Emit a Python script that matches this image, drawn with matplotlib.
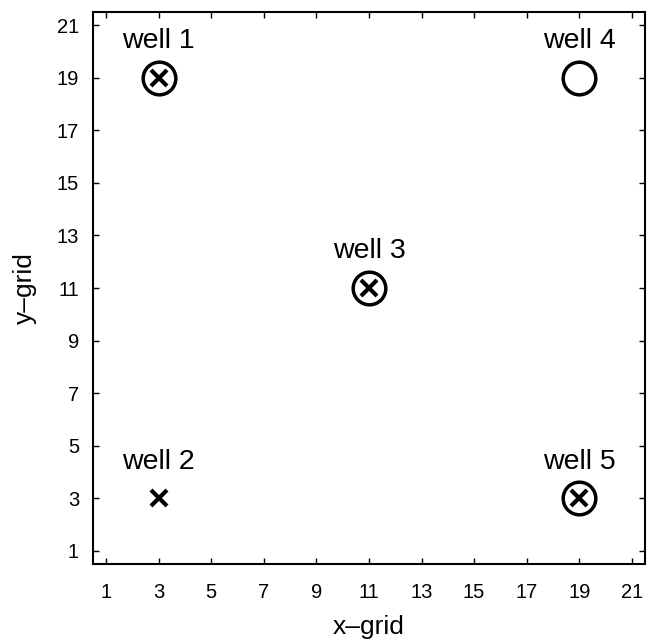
import matplotlib
matplotlib.use("Agg")
import matplotlib.pyplot as plt

plt.rcParams['font.family'] = ['Liberation Sans', 'DejaVu Sans']

# Well locations on the grid and which symbols each one carries
well_names = ["well 1", "well 2", "well 3", "well 4", "well 5"]
well_x = [3, 3, 11, 19, 19]
well_y = [19, 3, 11, 19, 3]
has_circle = [True, False, True, True, True]
has_cross = [True, True, True, False, True]

tick_vals = list(range(1, 22, 2))

fig = plt.figure(figsize=(6.52, 6.40), dpi=100)
ax = fig.add_axes([0.1426, 0.119, 0.8466, 0.862])

for name, x, y, circ, cross in zip(well_names, well_x, well_y, has_circle, has_cross):
    if circ:
        ax.plot(x, y, marker='o', markersize=23.5, markerfacecolor='none',
                markeredgecolor='black', markeredgewidth=2.5, linestyle='none')
    if cross:
        ax.plot(x, y, marker='x', markersize=11, markeredgecolor='black',
                markeredgewidth=3.0, linestyle='none')
    ax.annotate(name, (x, y), xytext=(0, 17), textcoords='offset points',
                ha='center', va='bottom', fontsize=20.5)

ax.set_xlim(0.5, 21.5)
ax.set_ylim(0.5, 21.5)
ax.set_xticks(tick_vals)
ax.set_yticks(tick_vals)
ax.tick_params(direction='in', length=4, width=1, top=True, right=True,
               labelsize=14.5)
ax.tick_params(axis='x', pad=14)
ax.tick_params(axis='y', pad=10)
for sp in ax.spines.values():
    sp.set_linewidth(1.5)

ax.set_xlabel("x\u2013grid", fontsize=19, labelpad=9)
ax.set_ylabel("y\u2013grid", fontsize=19, labelpad=14)

fig.savefig("out.png", dpi=100)
